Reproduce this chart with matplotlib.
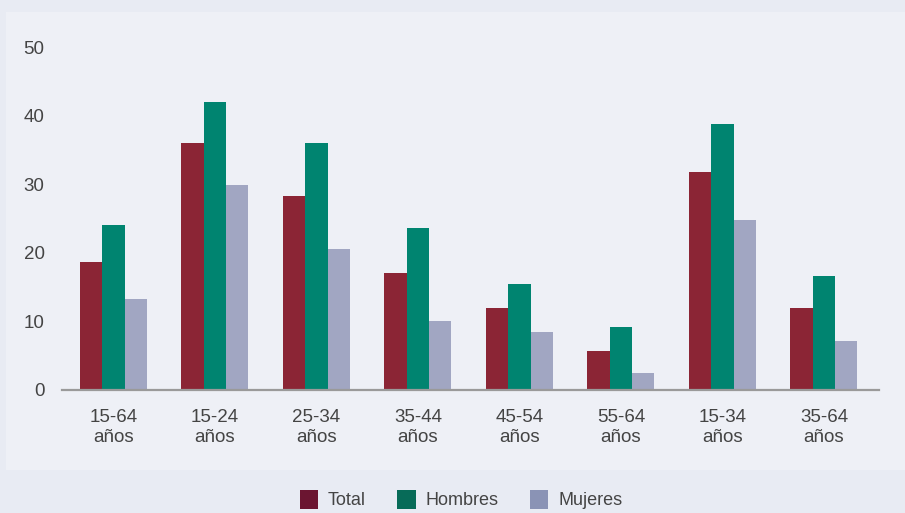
import matplotlib
matplotlib.use("Agg")
import matplotlib.pyplot as plt
import numpy as np
from matplotlib.patches import Rectangle, Patch

categories = ["15-64\naños", "15-24\naños", "25-34\naños", "35-44\naños",
              "45-54\naños", "55-64\naños", "15-34\naños", "35-64\naños"]
total = [18.7, 36.0, 28.3, 17.1, 11.9, 5.7, 31.8, 11.9]
hombres = [24.0, 42.0, 36.0, 23.6, 15.5, 9.2, 38.8, 16.6]
mujeres = [13.3, 29.9, 20.6, 10.1, 8.4, 2.5, 24.8, 7.2]
series_names = ["Total", "Hombres", "Mujeres"]
yticks = [0, 10, 20, 30, 40, 50]

bar_colors = ["#8b2535", "#008470", "#a1a6c2"]
legend_colors = ["#6b1531", "#076b58", "#8a93b5"]

plt.rcParams['font.family'] = ['Liberation Sans', 'DejaVu Sans']

W, H = 905, 513
fig = plt.figure(figsize=(W / 100, H / 100), dpi=100)
fig.patch.set_facecolor("#e8ebf3")
fig.patches.append(Rectangle((6 / W, 1 - 470 / H), 1 - 6 / W, (470 - 12) / H,
                             transform=fig.transFigure, facecolor="#eef0f6",
                             edgecolor="none", zorder=-5))

ax = fig.add_axes([62 / W, 1 - 390 / H, (879 - 62) / W, (390 - 47) / H])
ax.set_facecolor("none")
ax.set_zorder(2)

x = np.arange(len(categories))
w = 0.22
for i, (vals, c) in enumerate(zip([total, hombres, mujeres], bar_colors)):
    ax.bar(x + (i - 1) * w, vals, width=w, color=c, edgecolor="none", zorder=2)

ax.set_xlim(-0.507, 7.542)
ax.set_ylim(0, 50)
ax.set_yticks(yticks)
ax.set_xticks(x)
ax.set_xticklabels(categories, linespacing=1.18)
for s in ["top", "right", "left"]:
    ax.spines[s].set_visible(False)
ax.spines["bottom"].set_color("#9a9a9a")
ax.spines["bottom"].set_linewidth(1.6)
ax.tick_params(axis="y", length=0, pad=12.5, labelsize=13.5, labelcolor="#444444")
ax.tick_params(axis="x", length=0, pad=14, labelsize=13.5, labelcolor="#444444")

handles = [Patch(facecolor=c, edgecolor="none") for c in legend_colors]
leg = fig.legend(handles, series_names, loc="center", bbox_to_anchor=(461 / W, 1 - 499.5 / H),
                 ncol=3, frameon=False, fontsize=13, handlelength=1.0, handleheight=1.3,
                 handletextpad=0.55, columnspacing=1.75, labelcolor="#444444",
                 borderpad=0, borderaxespad=0)
leg.set_zorder(3)

fig.savefig("out.png", dpi=100, facecolor=fig.get_facecolor())
